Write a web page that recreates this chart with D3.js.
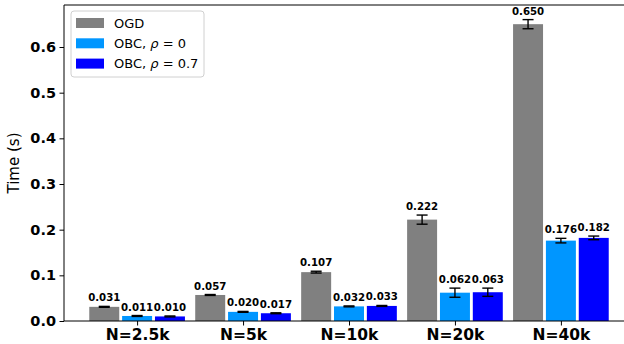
<!DOCTYPE html>
<html>
<head>
<meta charset="utf-8">
<script src="https://cdn.jsdelivr.net/npm/d3@7"></script>
<style>
  html, body { margin: 0; padding: 0; background: #fff; }
  svg { display: block; font-family: "DejaVu Sans", sans-serif; }
</style>
</head>
<body>
<svg id="chart" width="624" height="344"></svg>
<script>
// Problem sizes on the x axis
const categories = ["N=2.5k", "N=5k", "N=10k", "N=20k", "N=40k"];

// Mean run time (s) per method
const ogdTimes   = [0.031, 0.057, 0.107, 0.222, 0.650];
const obc0Times  = [0.011, 0.020, 0.032, 0.062, 0.176];
const obc07Times = [0.010, 0.017, 0.033, 0.063, 0.182];

// Spread (± error) per method
const ogdErr   = [0.001, 0.001, 0.002, 0.010, 0.010];
const obc0Err  = [0.001, 0.001, 0.001, 0.010, 0.005];
const obc07Err = [0.001, 0.001, 0.001, 0.009, 0.004];

const yTicks = [0.0, 0.1, 0.2, 0.3, 0.4, 0.5, 0.6];

const seriesNames  = ["OGD", "OBC0", "OBC07"];
const seriesColors = ["#808080", "#0096ff", "#0000ff"];

const series = [
  { key: seriesNames[0], values: ogdTimes,   errs: ogdErr,   color: seriesColors[0], offset: -1 },
  { key: seriesNames[1], values: obc0Times,  errs: obc0Err,  color: seriesColors[1], offset: 0 },
  { key: seriesNames[2], values: obc07Times, errs: obc07Err, color: seriesColors[2], offset: 1 }
];

const svg = d3.select("#chart");

const plotLeft = 64, plotRight = 634, plotTop = 5, plotBottom = 321;
const x = d3.scaleLinear().domain([-0.69, 4.69]).range([plotLeft, plotRight]);
const y = d3.scaleLinear().domain([0, 0.692]).range([plotBottom, plotTop]);

const step = 0.31, barW = 0.283;

// Bars
const g = svg.append("g");
series.forEach(s => {
  const grp = g.append("g");
  const rows = s.values.map((v, i) => ({ v, e: s.errs[i], i }));
  const cx = d => x(d.i + s.offset * step);

  grp.selectAll("rect")
    .data(rows)
    .join("rect")
    .attr("x", d => x(d.i + s.offset * step - barW / 2))
    .attr("width", x(barW) - x(0))
    .attr("y", d => y(d.v))
    .attr("height", d => y(0) - y(d.v))
    .attr("fill", s.color);

  // Error bars
  const eb = grp.selectAll("g.eb")
    .data(rows)
    .join("g").attr("class", "eb")
    .attr("stroke", "#000").attr("stroke-width", 1.4);
  eb.append("line")
    .attr("x1", cx).attr("x2", cx)
    .attr("y1", d => y(d.v - d.e)).attr("y2", d => y(d.v + d.e));
  eb.append("line")
    .attr("x1", d => cx(d) - 5.5).attr("x2", d => cx(d) + 5.5)
    .attr("y1", d => y(d.v + d.e)).attr("y2", d => y(d.v + d.e));
  eb.append("line")
    .attr("x1", d => cx(d) - 5.5).attr("x2", d => cx(d) + 5.5)
    .attr("y1", d => y(d.v - d.e)).attr("y2", d => y(d.v - d.e));

  // Value labels
  grp.selectAll("text.val")
    .data(rows)
    .join("text").attr("class", "val")
    .attr("x", cx)
    .attr("y", d => y(d.v + d.e) - 5)
    .attr("text-anchor", "middle")
    .attr("font-size", "10.2px")
    .attr("font-weight", "bold")
    .text(d => d3.format(".3f")(d.v));
});

// Axes
const yAxis = d3.axisLeft(y).tickValues(yTicks).tickFormat(d3.format(".1f")).tickSize(4.5).tickPadding(3.5);
const yg = svg.append("g").attr("transform", `translate(${plotLeft},0)`).call(yAxis);
yg.select(".domain").remove();
yg.selectAll("text").attr("font-size", "14.5px").attr("font-weight", "bold")
  .attr("font-family", "DejaVu Sans").attr("fill", "#000");

const xAxis = d3.axisBottom(x).tickValues(d3.range(categories.length))
  .tickFormat(i => categories[i]).tickSize(4.5).tickPadding(3);
const xg = svg.append("g").attr("transform", `translate(0,${plotBottom})`).call(xAxis);
xg.select(".domain").remove();
xg.selectAll("text").attr("font-size", "15.5px").attr("font-weight", "bold")
  .attr("font-family", "DejaVu Sans").attr("fill", "#000");

// Spines
const spines = svg.append("g").attr("stroke", "#000").attr("stroke-width", 1).attr("fill", "none");
spines.append("line").attr("x1", plotLeft).attr("x2", plotLeft).attr("y1", plotTop).attr("y2", plotBottom);
spines.append("line").attr("x1", plotLeft).attr("x2", plotRight).attr("y1", plotBottom).attr("y2", plotBottom);
spines.append("line").attr("x1", plotLeft).attr("x2", plotRight).attr("y1", plotTop).attr("y2", plotTop);

// Y label
svg.append("text")
  .attr("transform", `translate(19,${(plotTop + plotBottom) / 2}) rotate(-90)`)
  .attr("text-anchor", "middle")
  .attr("font-size", "15px")
  .text("Time (s)");

// Legend
const lg = svg.append("g");
lg.append("rect").attr("x", 71).attr("y", 11).attr("width", 133).attr("height", 66)
  .attr("rx", 3).attr("fill", "#fff").attr("fill-opacity", 0.8)
  .attr("stroke", "#d0d0d0").attr("stroke-width", 1);
const legendRows = [
  { color: seriesColors[0], parts: [["OGD", false]] },
  { color: seriesColors[1], parts: [["OBC, ", false], ["ρ", true], [" = 0", false]] },
  { color: seriesColors[2], parts: [["OBC, ", false], ["ρ", true], [" = 0.7", false]] }
];
legendRows.forEach((r, i) => {
  const cy = 23 + i * 20.3;
  lg.append("rect").attr("x", 76).attr("y", cy - 5).attr("width", 28).attr("height", 10).attr("fill", r.color);
  const t = lg.append("text").attr("x", 114).attr("y", cy + 4.8).attr("font-size", "13px");
  r.parts.forEach(([s, it]) => {
    t.append("tspan").attr("font-style", it ? "italic" : null).attr("xml:space", "preserve").text(s);
  });
});
</script>
</body>
</html>
